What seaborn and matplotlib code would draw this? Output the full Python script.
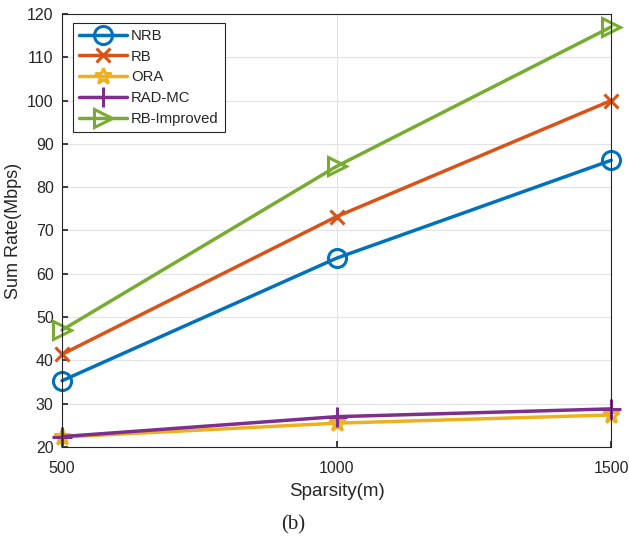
import matplotlib
matplotlib.use("Agg")
import matplotlib.pyplot as plt
import pandas as pd
import seaborn as sns

sparsity = [500, 1000, 1500]
nrb = [35.3, 63.6, 86.2]
rb = [41.4, 73.2, 100.0]
ora = [22.3, 25.5, 27.4]
rad_mc = [22.4, 27.0, 28.8]
rb_improved = [47.0, 84.8, 117.0]

series = [
    ("NRB", nrb, "#0072BD", "o", 13),
    ("RB", rb, "#D95319", "x", 10),
    ("ORA", ora, "#EDB120", "*", 12),
    ("RAD-MC", rad_mc, "#7E2F8E", "+", 14),
    ("RB-Improved", rb_improved, "#77AC30", ">", 13),
]

sns.set_theme(style="whitegrid")
plt.rcParams["font.family"] = ["Liberation Sans", "DejaVu Sans"]

fig = plt.figure(figsize=(6.29, 5.42), dpi=100)
ax = fig.add_axes([0.0986, 0.1753, 0.873, 0.799])

for name, vals, color, marker, ms in series:
    df = pd.DataFrame({"Sparsity": sparsity, "Rate": vals})
    sns.lineplot(data=df, x="Sparsity", y="Rate", ax=ax, color=color,
                 marker=marker, markersize=ms, markerfacecolor="none",
                 markeredgecolor=color, markeredgewidth=2.2,
                 linewidth=2.5, label=name, clip_on=False)

ax.set_xlim(500, 1500)
ax.set_ylim(20, 120)
ax.set_xticks([500, 1000, 1500])
ax.set_yticks(range(20, 121, 10))
ax.tick_params(axis="both", labelsize=11.5, length=4, direction="in",
               colors="#262626", left=True, bottom=True)
ax.tick_params(axis="x", pad=10)
ax.tick_params(axis="y", pad=6)
ax.grid(True, color="#e3e3e3", linewidth=0.8)
for sp in ax.spines.values():
    sp.set_color("#262626")
    sp.set_linewidth(0.8)
ax.set_xlabel("Sparsity(m)", fontsize=13.5, color="#262626", labelpad=5)
ax.set_ylabel("Sum Rate(Mbps)", fontsize=13, color="#262626", labelpad=4)

leg = ax.legend(loc="upper left", fontsize=10.7, frameon=True, fancybox=False,
                borderpad=0.4, handlelength=3.2, handletextpad=0.3,
                labelspacing=0.45, borderaxespad=0,
                bbox_to_anchor=(0.02, 0.979))
leg.get_frame().set_edgecolor("#262626")
leg.get_frame().set_linewidth(0.8)
leg.get_frame().set_alpha(1)

fig.text(0.466, 0.032, "(b)", fontsize=15, family="Liberation Serif",
         ha="center", va="center")

fig.savefig("out.png", dpi=100)
